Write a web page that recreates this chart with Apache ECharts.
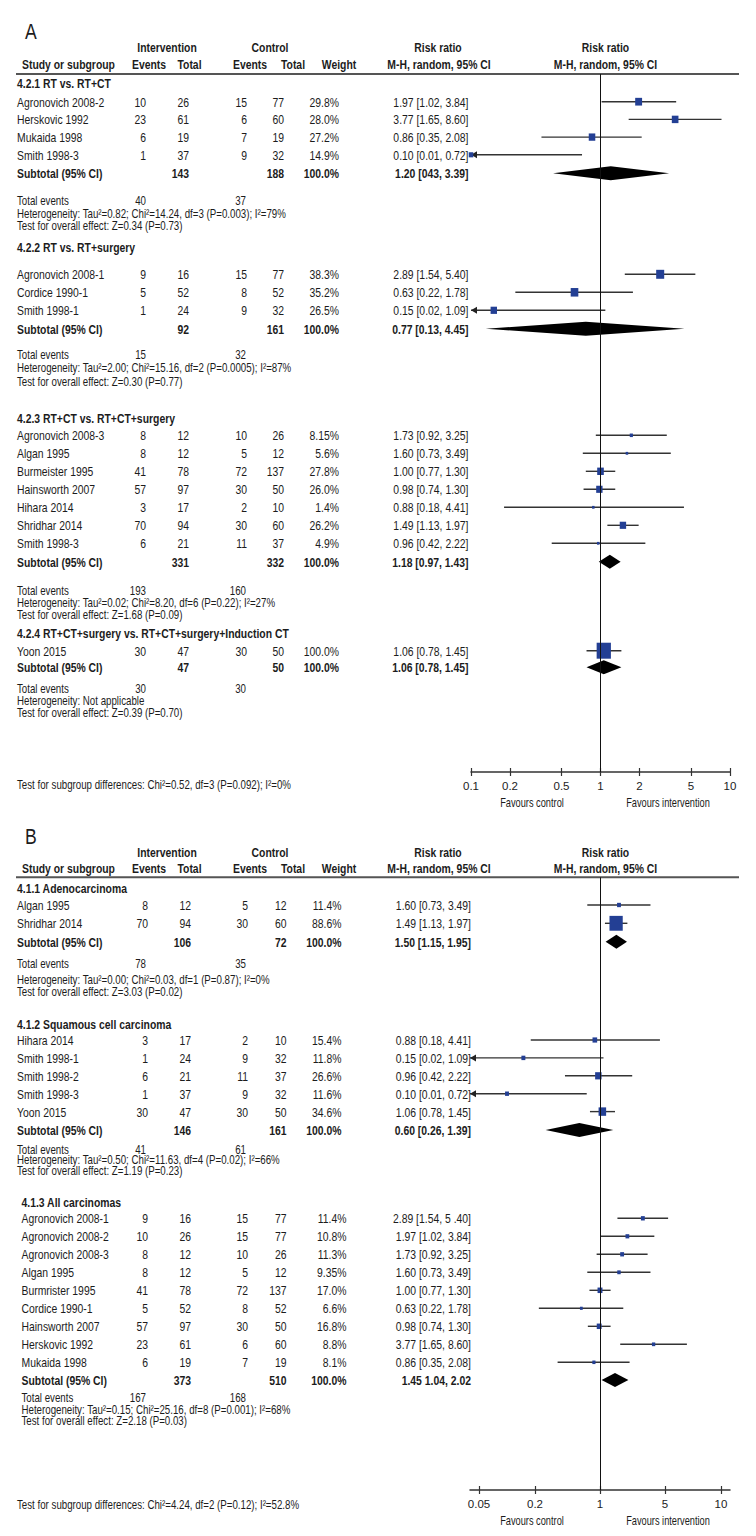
<!DOCTYPE html>
<html>
<head>
<meta charset="utf-8">
<title>Forest plots</title>
<script src="https://cdn.jsdelivr.net/npm/echarts@6.0.0/dist/echarts.min.js"></script>
<style>
  html, body { margin: 0; padding: 0; background: #fff; }
  #chart { width: 756px; height: 1536px; }
</style>
</head>
<body>
<div id="chart"></div>
<script>
// ---------- panel A ----------
// study row: [name, int events, int total, ctrl events, ctrl total, weight, RR text, rr, lower, upper]
const titlesA = [
  '4.2.1 RT vs. RT+CT',
  '4.2.2 RT vs. RT+surgery',
  '4.2.3 RT+CT vs. RT+CT+surgery',
  '4.2.4 RT+CT+surgery vs. RT+CT+surgery+Induction CT'
]
const studiesA1 = [
  ['Agronovich 2008-2', 10, 26, 15, 77, '29.8%', '1.97 [1.02, 3.84]', 1.97, 1.02, 3.84],
  ['Herskovic 1992', 23, 61, 6, 60, '28.0%', '3.77 [1.65, 8.60]', 3.77, 1.65, 8.60],
  ['Mukaida 1998', 6, 19, 7, 19, '27.2%', '0.86 [0.35, 2.08]', 0.86, 0.35, 2.08],
  ['Smith 1998-3', 1, 37, 9, 32, '14.9%', '0.10 [0.01, 0.72]', 0.10, 0.01, 0.72]
]
const studiesA2 = [
  ['Agronovich 2008-1', 9, 16, 15, 77, '38.3%', '2.89 [1.54, 5.40]', 2.89, 1.54, 5.40],
  ['Cordice 1990-1', 5, 52, 8, 52, '35.2%', '0.63 [0.22, 1.78]', 0.63, 0.22, 1.78],
  ['Smith 1998-1', 1, 24, 9, 32, '26.5%', '0.15 [0.02, 1.09]', 0.15, 0.02, 1.09]
]
const studiesA3 = [
  ['Agronovich 2008-3', 8, 12, 10, 26, '8.15%', '1.73 [0.92, 3.25]', 1.73, 0.92, 3.25],
  ['Algan 1995', 8, 12, 5, 12, '5.6%', '1.60 [0.73, 3.49]', 1.60, 0.73, 3.49],
  ['Burmeister 1995', 41, 78, 72, 137, '27.8%', '1.00 [0.77, 1.30]', 1.00, 0.77, 1.30],
  ['Hainsworth 2007', 57, 97, 30, 50, '26.0%', '0.98 [0.74, 1.30]', 0.98, 0.74, 1.30],
  ['Hihara 2014', 3, 17, 2, 10, '1.4%', '0.88 [0.18, 4.41]', 0.88, 0.18, 4.41],
  ['Shridhar 2014', 70, 94, 30, 60, '26.2%', '1.49 [1.13, 1.97]', 1.49, 1.13, 1.97],
  ['Smith 1998-3', 6, 21, 11, 37, '4.9%', '0.96 [0.42, 2.22]', 0.96, 0.42, 2.22]
]
const studiesA4 = [
  ['Yoon 2015', 30, 47, 30, 50, '100.0%', '1.06 [0.78, 1.45]', 1.06, 0.78, 1.45]
]
// subtotal: [int total, ctrl total, weight, RR text, rr, lower, upper]
const subtotalsA = [
  [143, 188, '100.0%', '1.20 [043, 3.39]', 1.20, 0.43, 3.39],
  [92, 161, '100.0%', '0.77 [0.13, 4.45]', 0.77, 0.13, 4.45],
  [331, 332, '100.0%', '1.18 [0.97, 1.43]', 1.18, 0.97, 1.43],
  [47, 50, '100.0%', '1.06 [0.78, 1.45]', 1.06, 0.78, 1.45]
]
const totalEventsA = [[40, 37], [15, 32], [193, 160], [30, 30]]
const heterogeneityA = [
  'Heterogeneity: Tau²=0.82; Chi²=14.24, df=3 (P=0.003); I²=79%',
  'Heterogeneity: Tau²=2.00; Chi²=15.16, df=2 (P=0.0005); I²=87%',
  'Heterogeneity: Tau²=0.02; Chi²=8.20, df=6 (P=0.22); I²=27%',
  'Heterogeneity: Not applicable'
]
const overallA = [
  'Test for overall effect: Z=0.34 (P=0.73)',
  'Test for overall effect: Z=0.30 (P=0.77)',
  'Test for overall effect: Z=1.68 (P=0.09)',
  'Test for overall effect: Z=0.39 (P=0.70)'
]
const subgroupDiffA = 'Test for subgroup differences: Chi²=0.52, df=3 (P=0.092); I²=0%'
const ticksA = [0.1, 0.2, 0.5, 1, 2, 5, 10]
const tickLabelsA = ['0.1', '0.2', '0.5', '1', '2', '5', '10']

// ---------- panel B ----------
const titlesB = [
  '4.1.1 Adenocarcinoma',
  '4.1.2 Squamous cell carcinoma',
  '4.1.3 All carcinomas'
]
const studiesB1 = [
  ['Algan 1995', 8, 12, 5, 12, '11.4%', '1.60 [0.73, 3.49]', 1.60, 0.73, 3.49],
  ['Shridhar 2014', 70, 94, 30, 60, '88.6%', '1.49 [1.13, 1.97]', 1.49, 1.13, 1.97]
]
const studiesB2 = [
  ['Hihara 2014', 3, 17, 2, 10, '15.4%', '0.88 [0.18, 4.41]', 0.88, 0.18, 4.41],
  ['Smith 1998-1', 1, 24, 9, 32, '11.8%', '0.15 [0.02, 1.09]', 0.15, 0.02, 1.09],
  ['Smith 1998-2', 6, 21, 11, 37, '26.6%', '0.96 [0.42, 2.22]', 0.96, 0.42, 2.22],
  ['Smith 1998-3', 1, 37, 9, 32, '11.6%', '0.10 [0.01, 0.72]', 0.10, 0.01, 0.72],
  ['Yoon 2015', 30, 47, 30, 50, '34.6%', '1.06 [0.78, 1.45]', 1.06, 0.78, 1.45]
]
const studiesB3 = [
  ['Agronovich 2008-1', 9, 16, 15, 77, '11.4%', '2.89 [1.54, 5 .40]', 2.89, 1.54, 5.40],
  ['Agronovich 2008-2', 10, 26, 15, 77, '10.8%', '1.97 [1.02, 3.84]', 1.97, 1.02, 3.84],
  ['Agronovich 2008-3', 8, 12, 10, 26, '11.3%', '1.73 [0.92, 3.25]', 1.73, 0.92, 3.25],
  ['Algan 1995', 8, 12, 5, 12, '9.35%', '1.60 [0.73, 3.49]', 1.60, 0.73, 3.49],
  ['Burmrister 1995', 41, 78, 72, 137, '17.0%', '1.00 [0.77, 1.30]', 1.00, 0.77, 1.30],
  ['Cordice 1990-1', 5, 52, 8, 52, '6.6%', '0.63 [0.22, 1.78]', 0.63, 0.22, 1.78],
  ['Hainsworth 2007', 57, 97, 30, 50, '16.8%', '0.98 [0.74, 1.30]', 0.98, 0.74, 1.30],
  ['Herskovic 1992', 23, 61, 6, 60, '8.8%', '3.77 [1.65, 8.60]', 3.77, 1.65, 8.60],
  ['Mukaida 1998', 6, 19, 7, 19, '8.1%', '0.86 [0.35, 2.08]', 0.86, 0.35, 2.08]
]
const subtotalsB = [
  [106, 72, '100.0%', '1.50 [1.15, 1.95]', 1.50, 1.15, 1.95],
  [146, 161, '100.0%', '0.60 [0.26, 1.39]', 0.60, 0.26, 1.39],
  [373, 510, '100.0%', '1.45 1.04, 2.02', 1.45, 1.04, 2.02]
]
const totalEventsB = [[78, 35], [41, 61], [167, 168]]
const heterogeneityB = [
  'Heterogeneity: Tau²=0.00; Chi²=0.03, df=1 (P=0.87); I²=0%',
  'Heterogeneity: Tau²=0.50; Chi²=11.63, df=4 (P=0.02); I²=66%',
  'Heterogeneity: Tau²=0.15; Chi²=25.16, df=8 (P=0.001); I²=68%'
]
const overallB = [
  'Test for overall effect: Z=3.03 (P=0.02)',
  'Test for overall effect: Z=1.19 (P=0.23)',
  'Test for overall effect: Z=2.18 (P=0.03)'
]
const subgroupDiffB = 'Test for subgroup differences: Chi²=4.24, df=2 (P=0.12); I²=52.8%'
const ticksB = [0.05, 0.2, 1, 5, 20]
const tickLabelsB = ['0.05', '0.2', '1', '5', '10']

// ---------- layout ----------
// no condensed face installed, so the table text is squeezed horizontally
const FONT = '"Liberation Sans", Arial, sans-serif'
const INK = '#1c1c1c'
const BLUE = '#233f94'

const layoutA = {
  letter: 'A', letterY: 31, head1: 47, head2: 64, rule: 74, axis: 772, diff: 785,
  xMin: 0.1, xMax: 10, gridLeft: 471, gridWidth: 259,
  cols: { name: 17, evI: 146, totI: 189, evC: 247, totC: 284, weight: 339, rr: 468.5 },
  groups: [
    { title: 83, first: 101.7, step: 17.7, sub: 173.3, tot: 201, het: 214, eff: 226 },
    { title: 247.3, first: 274.3, step: 18, sub: 328.7, tot: 354.7, het: 367.3, eff: 381.7 },
    { title: 418, first: 435.3, step: 18, sub: 561.7, tot: 591, het: 602.7, eff: 614.7 },
    { title: 632.7, first: 650.7, step: 18, sub: 667.3, tot: 688.3, het: 700.7, eff: 712.7 }
  ]
}
const layoutB = {
  letter: 'B', letterY: 836, head1: 851.7, head2: 868.3, rule: 877.3, axis: 1490, diff: 1505,
  xMin: 0.04, xMax: 25, gridLeft: 470, gridWidth: 260,
  cols: { name: 17, evI: 148, totI: 191, evC: 248, totC: 286.5, weight: 341.5, rr: 471 },
  groups: [
    { title: 887.7, first: 905, step: 18.3, sub: 941.7, tot: 963.3, het: 979.5, eff: 991.5 },
    { title: 1024, first: 1040, step: 17.9, sub: 1130, tot: 1149.3, het: 1159.5, eff: 1170.5 },
    { title: 1201.7, first: 1218.3, step: 18, sub: 1380, tot: 1398, het: 1410, eff: 1421, nameDx: 4.5, weightDx: 5 }
  ]
}

function text(x, y, s, o) {
  o = o || {}
  return {
    type: 'text',
    silent: true,
    x: x,
    y: y,
    scaleX: o.squeeze || 0.8,
    style: {
      x: 0,
      y: 0,
      text: String(s),
      fill: INK,
      fontFamily: FONT,
      fontSize: o.size || 13,
      fontWeight: o.bold ? 'bold' : 'normal',
      align: o.align || 'left',
      verticalAlign: 'middle'
    }
  }
}

function squareSize(w) {
  const s = Math.max(2.5, 0.9 * Math.pow(w, 0.6))
  return [s, s * 1.12]
}

function nearestLabel(ticks, labels, v) {
  let best = 0
  ticks.forEach((t, i) => {
    if (Math.abs(Math.log(t) - Math.log(v)) < Math.abs(Math.log(ticks[best]) - Math.log(v))) best = i
  })
  return labels[best]
}

function buildPanel(L, titles, studies, subtotals, totals, het, overall, diffText) {
  const g = []
  const c = L.cols
  const ci = []
  const squares = []
  const diamonds = []
  const small = { size: 12, squeeze: 0.81 }

  g.push(text(25, L.letterY, L.letter, { size: 22, squeeze: 0.8 }))
  // column headers
  g.push(text(167, L.head1, 'Intervention', { bold: true, align: 'center' }))
  g.push(text(270, L.head1, 'Control', { bold: true, align: 'center' }))
  g.push(text(438, L.head1, 'Risk ratio', { bold: true, align: 'center' }))
  g.push(text(605.5, L.head1, 'Risk ratio', { bold: true, align: 'center' }))
  g.push(text(22, L.head2, 'Study or subgroup', { bold: true }))
  g.push(text(149, L.head2, 'Events', { bold: true, align: 'center' }))
  g.push(text(189.5, L.head2, 'Total', { bold: true, align: 'center' }))
  g.push(text(250, L.head2, 'Events', { bold: true, align: 'center' }))
  g.push(text(293, L.head2, 'Total', { bold: true, align: 'center' }))
  g.push(text(339, L.head2, 'Weight', { bold: true, align: 'center' }))
  g.push(text(439, L.head2, 'M-H, random, 95% CI', { bold: true, align: 'center' }))
  g.push(text(605.5, L.head2, 'M-H, random, 95% CI', { bold: true, align: 'center' }))
  g.push({
    type: 'line', silent: true,
    shape: { x1: 16, y1: L.rule, x2: 739, y2: L.rule },
    style: { stroke: '#555', lineWidth: 2 }
  })

  titles.forEach((title, gi) => {
    const G = L.groups[gi]
    const nx = c.name + (G.nameDx || 0)
    const wx = c.weight + (G.weightDx || 0)
    g.push(text(nx, G.title, title, { bold: true }))
    studies[gi].forEach((r, i) => {
      const y = G.first + i * G.step
      g.push(text(nx, y, r[0]))
      g.push(text(c.evI, y, r[1], { align: 'right' }))
      g.push(text(c.totI, y, r[2], { align: 'right' }))
      g.push(text(c.evC, y, r[3], { align: 'right' }))
      g.push(text(c.totC, y, r[4], { align: 'right' }))
      g.push(text(wx, y, r[5], { align: 'right' }))
      g.push(text(c.rr, y, r[6], { align: 'right' }))
      ci.push([r[8], r[9], y])
      squares.push([r[7], y, parseFloat(r[5])])
    })
    const s = subtotals[gi]
    g.push(text(nx, G.sub, 'Subtotal (95% CI)', { bold: true }))
    g.push(text(c.totI, G.sub, s[0], { bold: true, align: 'right' }))
    g.push(text(c.totC, G.sub, s[1], { bold: true, align: 'right' }))
    g.push(text(wx, G.sub, s[2], { bold: true, align: 'right' }))
    g.push(text(c.rr, G.sub, s[3], { bold: true, align: 'right' }))
    diamonds.push([s[5], s[6], G.sub, s[4]])

    g.push(text(nx, G.tot, 'Total events', small))
    g.push(text(146, G.tot, totals[gi][0], Object.assign({ align: 'right' }, small)))
    g.push(text(246, G.tot, totals[gi][1], Object.assign({ align: 'right' }, small)))
    g.push(text(nx, G.het, het[gi], small))
    g.push(text(nx, G.eff, overall[gi], small))
  })

  g.push(text(17, L.diff, diffText, small))
  g.push(text(532, L.axis + 30, 'Favours control', { size: 12.5, squeeze: 0.74, align: 'center' }))
  g.push(text(668, L.axis + 30, 'Favours intervention', { size: 12.5, squeeze: 0.74, align: 'center' }))

  return { graphics: g, ci: ci, squares: squares, diamonds: diamonds }
}

const panelA = buildPanel(layoutA, titlesA, [studiesA1, studiesA2, studiesA3, studiesA4],
  subtotalsA, totalEventsA, heterogeneityA, overallA, subgroupDiffA)
const panelB = buildPanel(layoutB, titlesB, [studiesB1, studiesB2, studiesB3],
  subtotalsB, totalEventsB, heterogeneityB, overallB, subgroupDiffB)

function grid(L) {
  return { left: L.gridLeft, width: L.gridWidth, top: L.rule, height: L.axis - L.rule, show: false }
}

function xAxes(L, gi, ticks, labels) {
  return [
    {
      gridIndex: gi, type: 'log', logBase: 10, min: L.xMin, max: L.xMax, position: 'bottom',
      axisLine: { show: true, lineStyle: { color: '#333', width: 1.5 } },
      axisTick: { show: true, customValues: ticks, length: 4, lineStyle: { color: '#333', width: 1.2 } },
      axisLabel: {
        customValues: ticks, color: INK, fontFamily: FONT, fontSize: 11.5, margin: 8,
        formatter: v => nearestLabel(ticks, labels, v)
      },
      splitLine: { show: false }
    },
    {
      gridIndex: gi, type: 'log', logBase: 10, min: L.xMin, max: L.xMax, position: 'bottom',
      axisLine: { show: false },
      axisTick: { show: true, inside: true, customValues: ticks, length: 4, lineStyle: { color: '#333', width: 1.2 } },
      axisLabel: { show: false },
      splitLine: { show: false }
    }
  ]
}

function yAxis(L, gi) {
  return { gridIndex: gi, type: 'value', min: L.rule, max: L.axis, inverse: true, show: false }
}

function ciRenderer(xMin) {
  return function (params, api) {
    const lo = api.value(0)
    const hi = api.value(1)
    const y = api.value(2)
    const cut = lo < xMin
    const p0 = api.coord([cut ? xMin : lo, y])
    const p1 = api.coord([hi, y])
    const kids = [{
      type: 'line',
      shape: { x1: p0[0], y1: p0[1], x2: p1[0], y2: p1[1] },
      style: { stroke: '#333', lineWidth: 1.4 }
    }]
    if (cut) {
      kids.push({
        type: 'polygon',
        shape: { points: [[p0[0], p0[1]], [p0[0] + 6, p0[1] - 3.5], [p0[0] + 6, p0[1] + 3.5]] },
        style: { fill: '#222' }
      })
    }
    return { type: 'group', children: kids }
  }
}

function diamondRenderer(params, api) {
  const y = api.value(2)
  const a = api.coord([api.value(0), y])
  const b = api.coord([api.value(1), y])
  const m = api.coord([api.value(3), y])
  const h = 7
  return {
    type: 'polygon',
    shape: { points: [a, [m[0], m[1] - h], b, [m[0], m[1] + h]] },
    style: { fill: '#000' }
  }
}

function forestSeries(panel, L, xi, gi) {
  return [
    {
      type: 'custom', xAxisIndex: xi, yAxisIndex: gi, z: 2,
      data: panel.ci,
      encode: { x: [0, 1], y: 2 },
      renderItem: ciRenderer(L.xMin),
      markLine: {
        silent: true, symbol: 'none', label: { show: false },
        lineStyle: { color: '#111', width: 1, type: 'solid' },
        data: [{ xAxis: 1 }]
      }
    },
    {
      type: 'scatter', xAxisIndex: xi, yAxisIndex: gi, z: 4,
      symbol: 'rect',
      symbolSize: v => squareSize(v[2]),
      itemStyle: { color: BLUE, opacity: 1 },
      data: panel.squares
    },
    {
      type: 'custom', xAxisIndex: xi, yAxisIndex: gi, z: 3,
      data: panel.diamonds,
      encode: { x: [0, 1], y: 2 },
      renderItem: diamondRenderer
    }
  ]
}

const chart = echarts.init(document.getElementById('chart'), null, { renderer: 'svg' })
chart.setOption({
  animation: false,
  backgroundColor: '#fff',
  grid: [grid(layoutA), grid(layoutB)],
  xAxis: xAxes(layoutA, 0, ticksA, tickLabelsA).concat(xAxes(layoutB, 1, ticksB, tickLabelsB)),
  yAxis: [yAxis(layoutA, 0), yAxis(layoutB, 1)],
  series: forestSeries(panelA, layoutA, 0, 0).concat(forestSeries(panelB, layoutB, 2, 1)),
  graphic: { elements: panelA.graphics.concat(panelB.graphics) }
})
</script>
</body>
</html>
